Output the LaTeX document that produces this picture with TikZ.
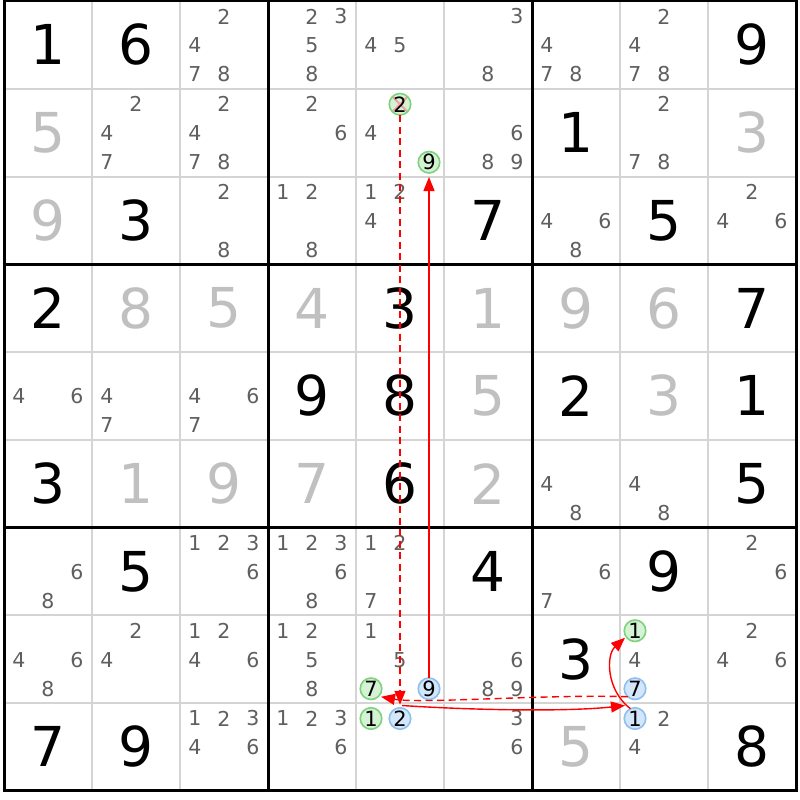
\documentclass[tikz,border=0pt]{standalone}
\usepackage{fontspec}
\setmainfont{DejaVu Sans}
\usetikzlibrary{arrows.meta}
\definecolor{gridgrey}{HTML}{D4D4D4}
\definecolor{candc}{HTML}{5F5F5F}
\definecolor{solvedc}{HTML}{C0C0C0}
\definecolor{gfill}{HTML}{D5F2D5}
\definecolor{gdraw}{HTML}{7DD27D}
\definecolor{bfill}{HTML}{D3E6FA}
\definecolor{bdraw}{HTML}{8DBFEF}
\definecolor{linkred}{HTML}{FF0000}
\definecolor{xpink}{HTML}{F2A0A0}
\newcommand{\circd}[5]{\node[#1] (#5) at ({19+88*#3+29*mod(#4-1,3)},{16.5+87.75*#2+29*int((#4-1)/3)}) {#4};}
\begin{document}
\begin{tikzpicture}[x=1pt,y=-1pt,
  given/.style={inner sep=0pt,outer sep=0pt,font=\fontsize{55}{55}\selectfont,text=black},
  solved/.style={given,text=solvedc},
  cand/.style={inner sep=0pt,outer sep=0pt,font=\fontsize{20.5}{20.5}\selectfont,text=candc},
  gcirc/.style={circle,draw=gdraw,fill=gfill,line width=1.6pt,minimum size=21.5pt,inner sep=0pt,outer sep=0pt,font=\fontsize{21}{21}\selectfont,text=black},
  bcirc/.style={gcirc,draw=bdraw,fill=bfill},
  crossed/.style={gcirc,path picture={\draw[xpink,line width=2pt] (path picture bounding box.south west) -- (path picture bounding box.north east) (path picture bounding box.north west) -- (path picture bounding box.south east);}},
  thinline/.style={draw=gridgrey,line width=2pt},
  thickline/.style={draw=black,line width=3pt},
  link/.style={draw=linkred,line width=1.4pt,-{Triangle[length=14pt,width=11pt]}},
  weak/.style={link,dash pattern=on 7pt off 4.5pt},
]
\useasboundingbox (0,0) rectangle (800,800);
\fill[white] (0,0) rectangle (800,800);
% grid
\foreach \k in {1,2,4,5,7,8}{
  \draw[thinline] ({4+88*\k},1) -- ({4+88*\k},790.75);
  \draw[thinline] (4,{1+87.75*\k}) -- (796,{1+87.75*\k});
}
\foreach \k in {0,3,6,9}{
  \draw[thickline] ({4+88*\k},-0.5) -- ({4+88*\k},792.25);
  \draw[thickline] (2.5,{1+87.75*\k}) -- (797.5,{1+87.75*\k});
}
% given digits
\foreach \r/\c/\d in {0/0/1,0/1/6,0/8/9,1/6/1,2/1/3,2/5/7,2/7/5,3/0/2,3/4/3,3/8/7,
  4/3/9,4/4/8,4/6/2,4/8/1,5/0/3,5/4/6,5/8/5,6/1/5,6/5/4,6/7/9,7/6/3,8/0/7,8/1/9,8/8/8}
  \node[given] (g\r\c) at ({48+88*\c},{44.875+87.75*\r}) {\d};
% solved digits
\foreach \r/\c/\d in {1/0/5,1/8/3,2/0/9,3/1/8,3/2/5,3/3/4,3/5/1,3/6/9,3/7/6,
  4/5/5,4/7/3,5/1/1,5/2/9,5/3/7,5/5/2,8/6/5}
  \node[solved] (s\r\c) at ({48+88*\c},{44.875+87.75*\r}) {\d};
% candidates
\foreach \r/\c/\L in {0/2/{2,4,7,8},0/3/{2,3,5,8},0/4/{4,5},0/5/{3,8},0/6/{4,7,8},0/7/{2,4,7,8},
  1/1/{2,4,7},1/2/{2,4,7,8},1/3/{2,6},1/4/{4},1/5/{6,8,9},1/7/{2,7,8},
  2/2/{2,8},2/3/{1,2,8},2/4/{1,2,4},2/6/{4,6,8},2/8/{2,4,6},
  4/0/{4,6},4/1/{4,7},4/2/{4,6,7},5/6/{4,8},5/7/{4,8},
  6/0/{6,8},6/2/{1,2,3,6},6/3/{1,2,3,6,8},6/4/{1,2,7},6/6/{6,7},6/8/{2,6},
  7/0/{4,6,8},7/1/{2,4},7/2/{1,2,4,6},7/3/{1,2,5,8},7/4/{1,5},7/5/{6,8,9},7/7/{4},7/8/{2,4,6},
  8/2/{1,2,3,4,6},8/3/{1,2,3,6},8/5/{3,6},8/7/{2,4}}{
  \foreach \d in \L {
    \node[cand] (k\r\c\d) at ({19+88*\c+29*mod(\d-1,3)},{16.5+87.75*\r+29*int((\d-1)/3)}) {\d};
  }
}
% highlighted candidates
\circd{crossed}{1}{4}{2}{n142}
\circd{gcirc}{1}{4}{9}{n149}
\circd{gcirc}{7}{4}{7}{n747}
\circd{bcirc}{7}{4}{9}{n749}
\circd{gcirc}{7}{7}{1}{n771}
\circd{bcirc}{7}{7}{7}{n777}
\circd{gcirc}{8}{4}{1}{n841}
\circd{bcirc}{8}{4}{2}{n842}
\circd{bcirc}{8}{7}{1}{n871}
% links
\draw[weak,shorten >=3pt] (n142) -- (n842);
\draw[link,shorten >=4pt] (n749) -- (n149);
\draw[weak] ([shift={(-7,8)}]n777.center) .. controls (550,694) and (420,704) .. ([shift={(10,8)}]n747.center);
\draw[link] ([shift={(2,-13)}]n842.center) .. controls (470,710) and (565,712) .. ([shift={(-10,-13)}]n871.center);
\draw[link] (n871.115) .. controls (606,690) and (606,655) .. ([shift={(-10,7)}]n771.center);
\end{tikzpicture}
\end{document}
